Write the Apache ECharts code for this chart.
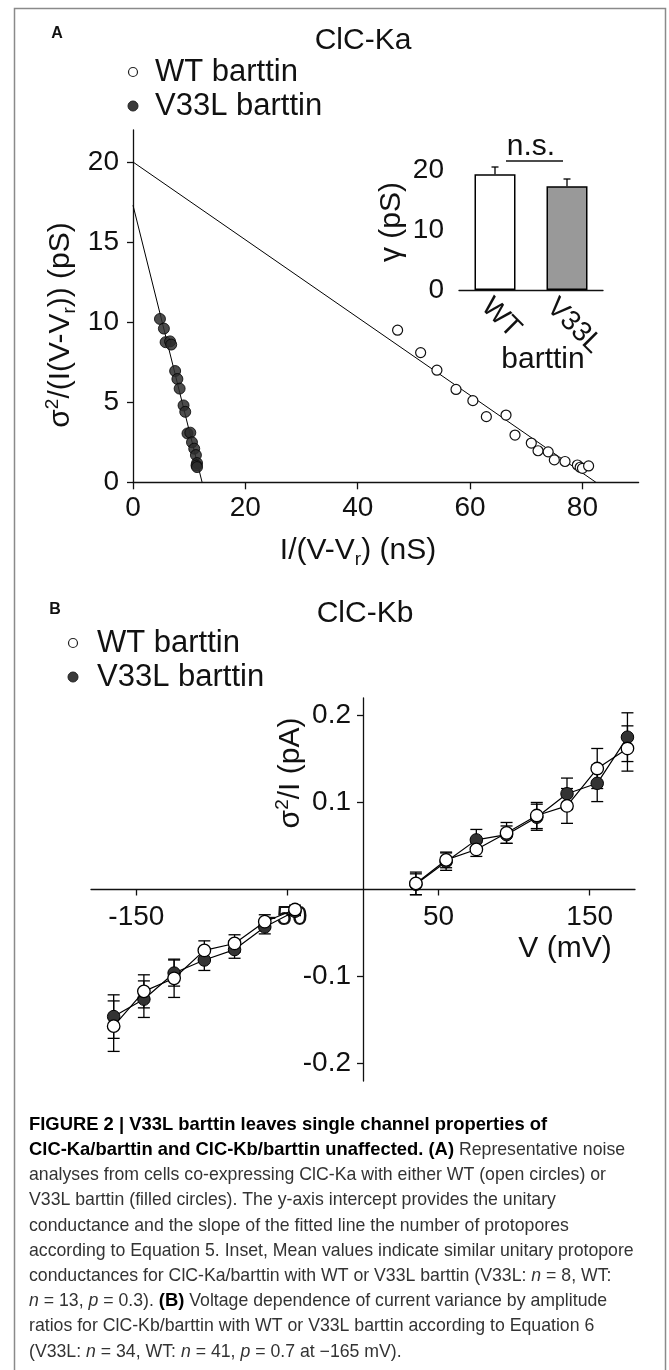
<!DOCTYPE html>
<html>
<head>
<meta charset="utf-8">
<title>ClC-Ka / ClC-Kb noise analysis</title>
<script src="https://cdn.jsdelivr.net/npm/echarts@6/dist/echarts.min.js"></script>
<style>
html, body { margin: 0; padding: 0; background: #fff; }
#main { width: 669px; height: 1370px; }
</style>
</head>
<body>
<div id="main"></div>
<script>
// panel A, ClC-Ka noise analysis (nS vs pS)
var wtX = [47.1, 51.2, 54.1, 57.5, 60.5, 62.9, 66.4, 68.0, 70.9, 72.1, 73.9, 75.0, 76.9, 79.1, 79.6, 80.0, 81.1];
var wtY = [9.5, 8.1, 7.0, 5.8, 5.1, 4.1, 4.2, 2.95, 2.45, 1.97, 1.9, 1.4, 1.3, 1.08, 0.94, 0.87, 1.02];
var v33X = [4.8, 5.5, 5.8, 6.6, 6.8, 7.5, 7.9, 8.3, 9.0, 9.3, 9.7, 10.2, 10.5, 10.9, 11.2, 11.4, 11.3, 11.4];
var v33Y = [10.2, 9.6, 8.75, 8.8, 8.6, 6.95, 6.45, 5.85, 4.8, 4.4, 3.05, 3.1, 2.5, 2.1, 1.7, 1.2, 1.05, 0.95];
// fitted lines: [x, y] end points
var wtFit = [[0, 20.0], [82.4, 0]];
var v33Fit = [[0, 17.3], [12.3, 0]];

// inset, unitary conductance
var insetCats = ['WT', 'V33L'];
var insetMean = [19.3, 17.3];
var insetSem = [1.2, 1.2];

// panel B, ClC-Kb sigma^2/I vs V
var volts = [-165, -145, -125, -105, -85, -65, -45, 35, 55, 75, 95, 115, 135, 155, 175];
var wtMean = [-0.157, -0.117, -0.102, -0.070, -0.062, -0.037, -0.023, 0.007, 0.034, 0.046, 0.065, 0.085, 0.096, 0.139, 0.162];
var wtSem = [0.029, 0.019, 0.022, 0.011, 0.010, 0.008, 0.005, 0.013, 0.009, 0.008, 0.012, 0.015, 0.020, 0.023, 0.026];
var v33Mean = [-0.146, -0.126, -0.096, -0.081, -0.069, -0.043, -0.025, 0.006, 0.032, 0.057, 0.063, 0.083, 0.110, 0.122, 0.175];
var v33Sem = [0.025, 0.021, 0.015, 0.012, 0.010, 0.008, 0.005, 0.012, 0.010, 0.012, 0.010, 0.015, 0.018, 0.021, 0.028];

// tick labels
var ticksAx = [0, 20, 40, 60, 80];
var ticksAy = [0, 5, 10, 15, 20];
var ticksInset = [0, 10, 20];
var ticksBx = [-150, -50, 50, 150];
var ticksBy = [-0.2, -0.1, 0.1, 0.2];

var captionLines = [
  '{b|FIGURE 2 | V33L barttin leaves single channel properties of}',
  '{b|ClC-Ka/barttin and ClC-Kb/barttin unaffected. (A)} Representative noise',
  'analyses from cells co-expressing ClC-Ka with either WT (open circles) or',
  'V33L barttin (filled circles). The y-axis intercept provides the unitary',
  'conductance and the slope of the fitted line the number of protopores',
  'according to Equation 5. Inset, Mean values indicate similar unitary protopore',
  'conductances for ClC-Ka/barttin with WT or V33L barttin (V33L: {i|n} = 8, WT:',
  '{i|n} = 13, {i|p} = 0.3). {b|(B)} Voltage dependence of current variance by amplitude',
  'ratios for ClC-Kb/barttin with WT or V33L barttin according to Equation 6',
  '(V33L: {i|n} = 34, WT: {i|n} = 41, {i|p} = 0.7 at \u2212165 mV).'
];

var FONT = '"Liberation Sans", Arial, sans-serif';
var INK = '#111';

// grid B geometry, the axes cross at V = 0 and sigma2/I = 0
var gB = { left: 91, top: 698, width: 544, height: 383, xMin: -180, xMax: 180, yMin: -0.22, yMax: 0.22 };
var offBy = -gB.width * (0 - gB.xMin) / (gB.xMax - gB.xMin);
var offBx = -gB.height * (0 - gB.yMin) / (gB.yMax - gB.yMin);

function pairs(xs, ys) {
  return xs.map(function (x, i) { return [x, ys[i]]; });
}
function triples(xs, ms, es) {
  return xs.map(function (x, i) { return [x, ms[i], es[i]]; });
}
function pick(arr, neg) {
  return arr.filter(function (v, i) { return neg ? volts[i] < 0 : volts[i] > 0; });
}

function axisBase(extra) {
  var a = {
    splitLine: { show: false },
    axisLine: { onZero: false, lineStyle: { color: INK, width: 1.3 } },
    axisTick: { length: 6, lineStyle: { color: INK, width: 1.3 } },
    axisLabel: { color: INK, fontSize: 28, fontFamily: FONT }
  };
  for (var k in extra) {
    if (typeof extra[k] === 'object' && !Array.isArray(extra[k]) && a[k]) {
      for (var j in extra[k]) a[k][j] = extra[k][j];
    } else {
      a[k] = extra[k];
    }
  }
  return a;
}

// error bars drawn through the axes
function errRender(upOnly, capW) {
  return function (params, api) {
    var x = api.value(0), m = api.value(1), e = api.value(2);
    var top = api.coord([x, m + e]);
    var bot = api.coord(upOnly ? [x, m] : [x, m - e]);
    var st = { stroke: '#000', lineWidth: 1.3 };
    var kids = [
      { type: 'line', shape: { x1: top[0], y1: top[1], x2: bot[0], y2: bot[1] }, style: st },
      { type: 'line', shape: { x1: top[0] - capW / 2, y1: top[1], x2: top[0] + capW / 2, y2: top[1] }, style: st }
    ];
    if (!upOnly) {
      kids.push({ type: 'line', shape: { x1: bot[0] - capW / 2, y1: bot[1], x2: bot[0] + capW / 2, y2: bot[1] }, style: st });
    }
    return { type: 'group', children: kids };
  };
}

function txt(x, y, text, size, opts) {
  opts = opts || {};
  return {
    type: 'text', x: x, y: y, rotation: opts.rot || 0, z: 10,
    style: {
      text: text, fill: opts.fill || INK, fontFamily: FONT, fontSize: size,
      fontWeight: opts.bold ? 'bold' : 'normal',
      align: opts.align || 'center', verticalAlign: 'middle',
      rich: opts.rich
    }
  };
}

function richName(size) {
  return {
    n: { fontSize: size, fontFamily: FONT, lineHeight: 36, fill: INK },
    sub: { fontSize: 19, fontFamily: FONT, verticalAlign: 'bottom', fill: INK },
    sup: { fontSize: 19, fontFamily: FONT, verticalAlign: 'top', fill: INK }
  };
}

var graphics = [
  { type: 'rect', shape: { x: 14.5, y: 8.5, width: 651, height: 1400 }, style: { fill: 'none', stroke: '#8a8a8a', lineWidth: 1.5 }, z: 1 },
  txt(57, 34, 'A', 16, { bold: true }),
  txt(363, 41, 'ClC-Ka', 30),
  { type: 'circle', shape: { cx: 133, cy: 72, r: 4.5 }, style: { fill: '#fff', stroke: '#222', lineWidth: 1.2 }, z: 10 },
  txt(155, 72, 'WT barttin', 31, { align: 'left' }),
  { type: 'circle', shape: { cx: 133, cy: 106, r: 5 }, style: { fill: '#3a3a3a', stroke: '#222', lineWidth: 1 }, z: 10 },
  txt(155, 106, 'V33L barttin', 31, { align: 'left' }),
  txt(358, 551, '{n|I/(V-V}{sub|r}{n|) (nS)}', 30, { rich: richName(30) }),
  txt(61, 325, '{n|\u03c3}{sup|2}{n|/(I(V-V}{sub|r}{n|)) (pS)}', 30, { rich: richName(30), rot: Math.PI / 2 }),
  txt(392, 222, '\u03b3 (pS)', 30, { rot: Math.PI / 2 }),
  txt(531, 147, 'n.s.', 30),
  { type: 'line', shape: { x1: 506, y1: 161, x2: 563, y2: 161 }, style: { stroke: INK, lineWidth: 1.5 }, z: 10 },
  // rotated inset category labels
  txt(501, 318, insetCats[0], 28, { rot: -Math.PI / 4 }),
  txt(574, 326, insetCats[1], 28, { rot: -Math.PI / 4 }),
  txt(543, 360, 'barttin', 30),
  txt(55, 610, 'B', 16, { bold: true }),
  txt(365, 614, 'ClC-Kb', 30),
  { type: 'circle', shape: { cx: 73, cy: 643, r: 4.5 }, style: { fill: '#fff', stroke: '#222', lineWidth: 1.2 }, z: 10 },
  txt(97, 643, 'WT barttin', 31, { align: 'left' }),
  { type: 'circle', shape: { cx: 73, cy: 677, r: 5 }, style: { fill: '#3a3a3a', stroke: '#222', lineWidth: 1 }, z: 10 },
  txt(97, 677, 'V33L barttin', 31, { align: 'left' }),
  txt(565, 949, 'V (mV)', 30),
  txt(291, 773, '{n|\u03c3}{sup|2}{n|/I (pA)}', 30, { rich: richName(30), rot: Math.PI / 2 })
];

captionLines.forEach(function (line, i) {
  graphics.push(txt(29, 1125 + i * 25.2, line, 17.7, {
    align: 'left', fill: '#333',
    rich: {
      b: { fontSize: 18.4, fontFamily: FONT, fontWeight: 'bold', fill: '#000' },
      i: { fontSize: 17.7, fontFamily: FONT, fontStyle: 'italic', fill: '#333' }
    }
  }));
});

var chart = echarts.init(document.getElementById('main'), null, { renderer: 'canvas' });

var lineSeries = function (name, data, filled) {
  return {
    name: name, type: 'line', xAxisIndex: 2, yAxisIndex: 2, data: data,
    symbol: 'circle', symbolSize: 12.5, showSymbol: true,
    lineStyle: { color: '#000', width: 1.2 },
    itemStyle: filled ? { color: '#333', borderColor: '#000', borderWidth: 1 } : { color: '#fff', borderColor: '#000', borderWidth: 1.3 },
    z: filled ? 3 : 4
  };
};

chart.setOption({
  animation: false,
  backgroundColor: '#fff',
  grid: [
    { left: 133, top: 130, width: 505.6, height: 352.3 },
    { left: 459, top: 152, width: 144, height: 138 },
    { left: gB.left, top: gB.top, width: gB.width, height: gB.height }
  ],
  xAxis: [
    axisBase({ type: 'value', gridIndex: 0, min: 0, max: 90,
      axisTick: { length: 7, customValues: ticksAx },
      axisLabel: { margin: 12, customValues: ticksAx } }),
    axisBase({ type: 'category', gridIndex: 1, data: insetCats,
      axisTick: { show: false },
      axisLabel: { show: false } }),
    axisBase({ type: 'value', gridIndex: 2, min: gB.xMin, max: gB.xMax, position: 'bottom', offset: offBx,
      axisTick: { length: 6, customValues: ticksBx },
      axisLabel: { margin: 14, customValues: ticksBx } })
  ],
  yAxis: [
    axisBase({ type: 'value', gridIndex: 0, min: 0, max: 22,
      axisTick: { customValues: ticksAy },
      axisLabel: { margin: 14, customValues: ticksAy } }),
    axisBase({ type: 'value', gridIndex: 1, min: 0, max: 23,
      axisTick: { length: 7, customValues: ticksInset },
      axisLabel: { margin: 15, customValues: ticksInset } }),
    axisBase({ type: 'value', gridIndex: 2, min: gB.yMin, max: gB.yMax, position: 'left', offset: offBy,
      axisTick: { customValues: ticksBy },
      axisLabel: { margin: 12, customValues: ticksBy } })
  ],
  graphic: graphics,
  series: [
    // panel A
    { type: 'line', xAxisIndex: 0, yAxisIndex: 0, data: wtFit, showSymbol: false, symbol: 'none',
      lineStyle: { color: '#000', width: 1 }, z: 2 },
    { type: 'line', xAxisIndex: 0, yAxisIndex: 0, data: v33Fit, showSymbol: false, symbol: 'none',
      lineStyle: { color: '#000', width: 1 }, z: 2 },
    { name: 'V33L barttin', type: 'scatter', xAxisIndex: 0, yAxisIndex: 0, data: pairs(v33X, v33Y),
      symbolSize: 11, itemStyle: { color: 'rgba(45,45,45,0.85)', borderColor: '#000', borderWidth: 0.8, opacity: 1 }, z: 3 },
    { name: 'WT barttin', type: 'scatter', xAxisIndex: 0, yAxisIndex: 0, data: pairs(wtX, wtY),
      symbolSize: 10, itemStyle: { color: '#fff', borderColor: '#111', borderWidth: 1.2, opacity: 1 }, z: 3 },
    // inset
    { type: 'bar', xAxisIndex: 1, yAxisIndex: 1, barWidth: 41,
      data: insetMean.map(function (v, i) {
        return { value: v, itemStyle: { color: i === 0 ? '#fff' : '#999', borderColor: '#000', borderWidth: 1.5 } };
      }), z: 2 },
    { type: 'custom', xAxisIndex: 1, yAxisIndex: 1, renderItem: errRender(true, 7),
      encode: { x: 0, y: 1 }, data: triples([0, 1], insetMean, insetSem), z: 3 },
    // panel B
    { type: 'custom', xAxisIndex: 2, yAxisIndex: 2, renderItem: errRender(false, 12),
      encode: { x: 0, y: 1 }, data: triples(volts, v33Mean, v33Sem), z: 2 },
    { type: 'custom', xAxisIndex: 2, yAxisIndex: 2, renderItem: errRender(false, 12),
      encode: { x: 0, y: 1 }, data: triples(volts, wtMean, wtSem), z: 2 },
    lineSeries('V33L neg', pairs(pick(volts, true), pick(v33Mean, true)), true),
    lineSeries('V33L pos', pairs(pick(volts, false), pick(v33Mean, false)), true),
    lineSeries('WT neg', pairs(pick(volts, true), pick(wtMean, true)), false),
    lineSeries('WT pos', pairs(pick(volts, false), pick(wtMean, false)), false)
  ]
});
</script>
</body>
</html>
